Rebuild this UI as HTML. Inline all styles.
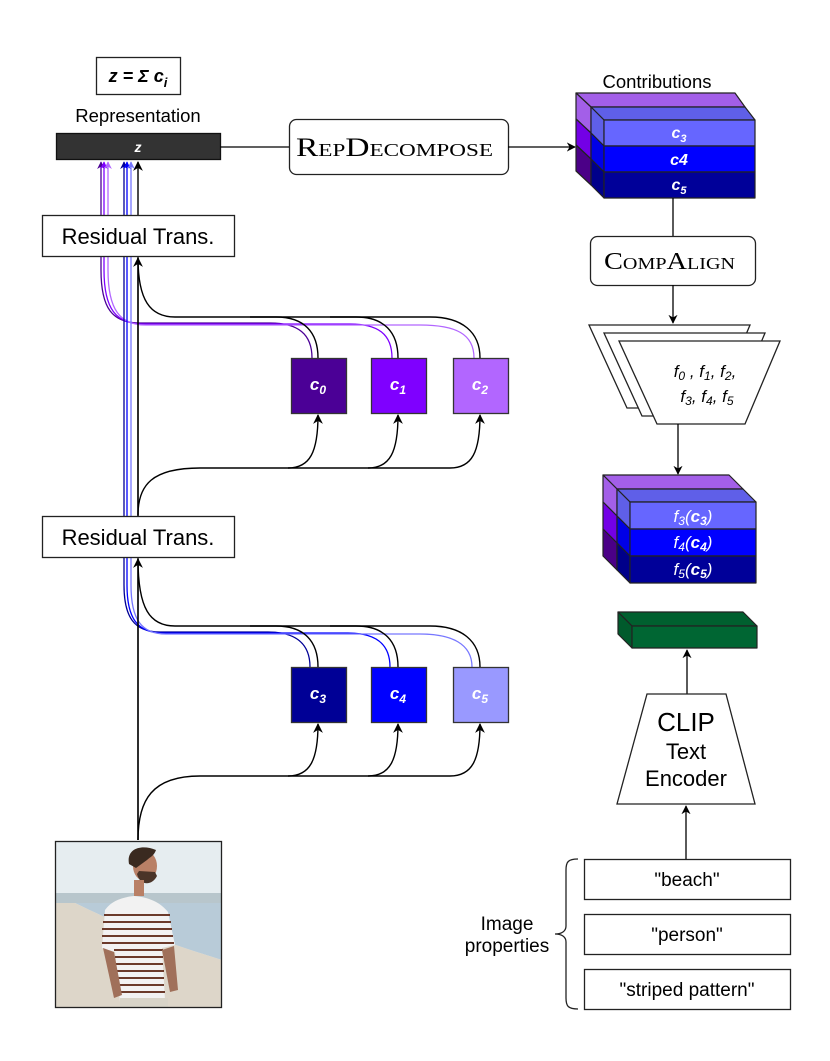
<!DOCTYPE html>
<html><head><meta charset="utf-8"><style>
html,body{margin:0;padding:0;background:#fff}
svg{display:block}
text{font-family:"Liberation Sans",sans-serif}
.sc{font-family:"Liberation Serif",serif;font-variant:small-caps}
</style></head><body>
<svg width="830" height="1061" viewBox="0 0 830 1061" xmlns="http://www.w3.org/2000/svg">
<defs>
<marker id="ab" viewBox="0 0 10 10" refX="9" refY="5" markerWidth="7" markerHeight="7" orient="auto-start-reverse"><path d="M0,0 L10,5 L0,10 L3,5 z" fill="#000"/></marker>
<marker id="a1" viewBox="0 0 10 10" refX="9" refY="5" markerWidth="6" markerHeight="6" orient="auto"><path d="M0,0 L10,5 L0,10 L3,5 z" fill="#4b0096"/></marker>
<marker id="a2" viewBox="0 0 10 10" refX="9" refY="5" markerWidth="6" markerHeight="6" orient="auto"><path d="M0,0 L10,5 L0,10 L3,5 z" fill="#7f00ff"/></marker>
<marker id="a3" viewBox="0 0 10 10" refX="9" refY="5" markerWidth="6" markerHeight="6" orient="auto"><path d="M0,0 L10,5 L0,10 L3,5 z" fill="#b266ff"/></marker>
<marker id="a4" viewBox="0 0 10 10" refX="9" refY="5" markerWidth="6" markerHeight="6" orient="auto"><path d="M0,0 L10,5 L0,10 L3,5 z" fill="#000096"/></marker>
<marker id="a5" viewBox="0 0 10 10" refX="9" refY="5" markerWidth="6" markerHeight="6" orient="auto"><path d="M0,0 L10,5 L0,10 L3,5 z" fill="#0000ff"/></marker>
<marker id="a6" viewBox="0 0 10 10" refX="9" refY="5" markerWidth="6" markerHeight="6" orient="auto"><path d="M0,0 L10,5 L0,10 L3,5 z" fill="#7777ff"/></marker>
</defs>

<!-- formula box -->
<rect x="96.5" y="57.5" width="84" height="37" fill="#fff" stroke="#222" stroke-width="1.3"/>
<text x="138" y="82" text-anchor="middle" font-size="18" font-weight="bold" font-style="italic">z = Σ c<tspan font-size="13" dy="5">i</tspan></text>
<text x="138" y="122" text-anchor="middle" font-size="18.5">Representation</text>

<!-- colored vertical lines (behind boxes) -->
<g fill="none" stroke-width="1.3">
<path d="M312,358 C312,334 298,323 270,323 L140,323 C112,323 101,308 101,270 L101,162" stroke="#4b0096" marker-end="url(#a1)"/>
<path d="M392,358 C392,334 378,324 350,324 L143,324 C116,324 104,309 104,270 L104,162" stroke="#7f00ff" marker-end="url(#a2)"/>
<path d="M474,358 C474,334 456,325 420,325 L146,325 C120,325 108,310 108,270 L108,162" stroke="#b266ff" marker-end="url(#a3)"/>
<path d="M310,667 C310,644 296,632 268,632 L160,632 C134,632 124,617 124,585 L124,162" stroke="#000096" marker-end="url(#a4)"/>
<path d="M390,667 C390,644 376,633 348,633 L163,633 C137,633 127,618 127,585 L127,162" stroke="#0000ff" marker-end="url(#a5)"/>
<path d="M472,667 C472,644 452,634 420,634 L166,634 C141,634 131,619 131,585 L131,162" stroke="#7777ff" marker-end="url(#a6)"/>
</g>
<!-- black main line -->
<g fill="none" stroke="#000" stroke-width="1.4">
<line x1="138" y1="840" x2="138" y2="162" marker-end="url(#ab)"/>
<line x1="138" y1="540" x2="138" y2="258" marker-end="url(#ab)"/>
<line x1="138" y1="840" x2="138" y2="559" marker-end="url(#ab)"/>
<path d="M318,358 C318,332 304,317 276,317 L175,317 C150,317 138,300 138,258"/>
<path d="M398,358 C398,332 384,317 356,317 L250,317"/>
<path d="M480,358 C480,332 462,317 430,317 L330,317"/>
<path d="M138,515 C138,485 152,468 200,468 L450,468 C472,468 480,452 480,415" marker-end="url(#ab)"/>
<path d="M288,468 C310,468 318,452 318,415" marker-end="url(#ab)"/>
<path d="M368,468 C390,468 398,452 398,415" marker-end="url(#ab)"/>
<path d="M318,667 C318,641 304,626 276,626 L175,626 C150,626 138,609 138,559"/>
<path d="M398,667 C398,641 384,626 356,626 L250,626"/>
<path d="M480,667 C480,641 462,626 430,626 L330,626"/>
<path d="M138,840 C138,800 152,776 200,776 L450,776 C472,776 480,760 480,724" marker-end="url(#ab)"/>
<path d="M288,776 C310,776 318,760 318,724" marker-end="url(#ab)"/>
<path d="M368,776 C390,776 398,760 398,724" marker-end="url(#ab)"/>
</g>

<!-- z bar -->
<rect x="56.5" y="133.5" width="164" height="26" fill="#333" stroke="#111" stroke-width="1.3"/>
<text x="138" y="152" text-anchor="middle" font-size="14" font-weight="bold" font-style="italic" fill="#fff">z</text>

<!-- residual boxes -->
<rect x="42.5" y="215.5" width="192" height="41" fill="#fff" stroke="#222" stroke-width="1.3"/>
<text x="138" y="244" text-anchor="middle" font-size="22">Residual Trans.</text>
<rect x="42.5" y="516.5" width="192" height="41" fill="#fff" stroke="#222" stroke-width="1.3"/>
<text x="138" y="545" text-anchor="middle" font-size="22">Residual Trans.</text>

<!-- c boxes -->
<g stroke="#333" stroke-width="1.3">
<rect x="291.5" y="358.5" width="55" height="55" fill="#4b0096"/>
<rect x="371.5" y="358.5" width="55" height="55" fill="#7f00ff"/>
<rect x="453.5" y="358.5" width="55" height="55" fill="#b266ff"/>
<rect x="291.5" y="667.5" width="55" height="55" fill="#000096"/>
<rect x="371.5" y="667.5" width="55" height="55" fill="#0000ff"/>
<rect x="453.5" y="667.5" width="55" height="55" fill="#9999ff"/>
</g>
<g fill="#fff" font-size="17" font-weight="bold" font-style="italic" text-anchor="middle">
<text x="318" y="390">c<tspan font-size="12" dy="4">0</tspan></text>
<text x="398" y="390">c<tspan font-size="12" dy="4">1</tspan></text>
<text x="480" y="390">c<tspan font-size="12" dy="4">2</tspan></text>
<text x="318" y="699">c<tspan font-size="12" dy="4">3</tspan></text>
<text x="398" y="699">c<tspan font-size="12" dy="4">4</tspan></text>
<text x="480" y="699">c<tspan font-size="12" dy="4">5</tspan></text>
</g>

<!-- RepDecompose -->
<line x1="220" y1="147" x2="289" y2="147" stroke="#000" stroke-width="1.3"/>
<rect x="289.5" y="119.5" width="219" height="55" rx="7" fill="#fff" stroke="#222" stroke-width="1.3"/>
<text class="sc" x="296" y="156" font-size="26" textLength="197" lengthAdjust="spacingAndGlyphs">RepDecompose</text>
<line x1="508" y1="147" x2="575" y2="147" stroke="#000" stroke-width="1.3" marker-end="url(#ab)"/>

<!-- top cube -->
<text x="657" y="88" text-anchor="middle" font-size="18.5">Contributions</text>
<g stroke="#222" stroke-width="1.2" stroke-linejoin="round">
<polygon points="576,93 735,93 745,107 591,107" fill="#a35fe8"/>
<polygon points="591,107 745,107 755,120 604,120" fill="#5f5fe8"/>
<polygon points="576,93 591,107 591,133 576,119" fill="#a35fe8"/>
<polygon points="576,119 591,133 591,159 576,145" fill="#7300e6"/>
<polygon points="576,145 591,159 591,185 576,171" fill="#4b0087"/>
<polygon points="591,107 604,120 604,146 591,133" fill="#5f5fe8"/>
<polygon points="591,133 604,146 604,172 591,159" fill="#0000e6"/>
<polygon points="591,159 604,172 604,198 591,185" fill="#00008a"/>
<rect x="604" y="120" width="151" height="26" fill="#6666ff"/>
<rect x="604" y="146" width="151" height="26" fill="#0000ff"/>
<rect x="604" y="172" width="151" height="26" fill="#000099"/>
</g>
<g fill="#fff" font-size="16" font-weight="bold" font-style="italic" text-anchor="middle">
<text x="679" y="138">c<tspan font-size="11" dy="4">3</tspan></text>
<text x="679" y="165">c4</text>
<text x="679" y="190">c<tspan font-size="11" dy="4">5</tspan></text>
</g>

<line x1="673" y1="198" x2="673" y2="236" stroke="#000" stroke-width="1.3"/>
<rect x="590.5" y="236.5" width="165" height="49" rx="7" fill="#fff" stroke="#222" stroke-width="1.3"/>
<text class="sc" x="604" y="269" font-size="24" textLength="131" lengthAdjust="spacingAndGlyphs">CompAlign</text>
<line x1="673" y1="285" x2="673" y2="323" stroke="#000" stroke-width="1.3" marker-end="url(#ab)"/>

<!-- trapezoids -->
<g fill="#fff" stroke="#222" stroke-width="1.3">
<polygon points="589,325 750,325 715,408 627,408"/>
<polygon points="604,333 765,333 730,416 642,416"/>
<polygon points="619,341 780,341 745,424 657,424"/>
</g>
<g font-size="17" font-style="italic" text-anchor="middle">
<text x="705" y="377">f<tspan font-size="12" dy="3">0</tspan><tspan dy="-3"> , f</tspan><tspan font-size="12" dy="3">1</tspan><tspan dy="-3">, f</tspan><tspan font-size="12" dy="3">2</tspan><tspan dy="-3">,</tspan></text>
<text x="707" y="402">f<tspan font-size="12" dy="3">3</tspan><tspan dy="-3">, f</tspan><tspan font-size="12" dy="3">4</tspan><tspan dy="-3">, f</tspan><tspan font-size="12" dy="3">5</tspan></text>
</g>
<line x1="678" y1="424" x2="678" y2="474" stroke="#000" stroke-width="1.3" marker-end="url(#ab)"/>

<!-- bottom cube -->
<g stroke="#222" stroke-width="1.2" stroke-linejoin="round">
<polygon points="603,475 729,475 743,489 617,489" fill="#a35fe8"/>
<polygon points="617,489 743,489 756,502 630,502" fill="#5f5fe8"/>
<polygon points="603,475 617,489 617,516 603,502" fill="#a35fe8"/>
<polygon points="603,502 617,516 617,543 603,529" fill="#7300e6"/>
<polygon points="603,529 617,543 617,570 603,556" fill="#4b0087"/>
<polygon points="617,489 630,502 630,529 617,516" fill="#5f5fe8"/>
<polygon points="617,516 630,529 630,556 617,543" fill="#0000e6"/>
<polygon points="617,543 630,556 630,583 617,570" fill="#00008a"/>
<rect x="630" y="502" width="126" height="27" fill="#6666ff"/>
<rect x="630" y="529" width="126" height="27" fill="#0000ff"/>
<rect x="630" y="556" width="126" height="27" fill="#000099"/>
</g>
<g fill="#fff" font-size="17" font-style="italic" text-anchor="middle">
<text x="693" y="522">f<tspan font-size="12" dy="3">3</tspan><tspan dy="-3">(</tspan><tspan font-weight="bold">c</tspan><tspan font-size="12" font-weight="bold" dy="3">3</tspan><tspan dy="-3">)</tspan></text>
<text x="693" y="548">f<tspan font-size="12" dy="3">4</tspan><tspan dy="-3">(</tspan><tspan font-weight="bold">c</tspan><tspan font-size="12" font-weight="bold" dy="3">4</tspan><tspan dy="-3">)</tspan></text>
<text x="693" y="575">f<tspan font-size="12" dy="3">5</tspan><tspan dy="-3">(</tspan><tspan font-weight="bold">c</tspan><tspan font-size="12" font-weight="bold" dy="3">5</tspan><tspan dy="-3">)</tspan></text>
</g>

<!-- green -->
<g stroke="#222" stroke-width="1.2" stroke-linejoin="round">
<polygon points="618,612 743,612 757,626 632,626" fill="#00602f"/>
<polygon points="618,612 632,626 632,648 618,634" fill="#005a2c"/>
<rect x="632" y="626" width="125" height="22" fill="#006633"/>
</g>
<line x1="687" y1="694" x2="687" y2="650" stroke="#000" stroke-width="1.3" marker-end="url(#ab)"/>

<!-- CLIP -->
<polygon points="647,694 726,694 755,804 617,804" fill="#fff" stroke="#222" stroke-width="1.3"/>
<text x="686" y="731" text-anchor="middle" font-size="26">CLIP</text>
<text x="686" y="759" text-anchor="middle" font-size="22">Text</text>
<text x="686" y="786" text-anchor="middle" font-size="22">Encoder</text>
<line x1="686" y1="859" x2="686" y2="806" stroke="#000" stroke-width="1.3" marker-end="url(#ab)"/>

<!-- property boxes -->
<g fill="#fff" stroke="#222" stroke-width="1.3">
<rect x="584.5" y="859.5" width="206" height="40"/>
<rect x="584.5" y="914.5" width="206" height="40"/>
<rect x="584.5" y="969.5" width="206" height="40"/>
</g>
<g font-size="19" text-anchor="middle">
<text x="687" y="886">"beach"</text>
<text x="687" y="941">"person"</text>
<text x="687" y="996">"striped pattern"</text>
<text x="507" y="930">Image</text>
<text x="507" y="952">properties</text>
</g>
<path d="M578,859 C568,859 566,862 566,870 L566,926 C566,931 562,934 555,934 C562,934 566,937 566,942 L566,998 C566,1006 568,1009 578,1009" fill="none" stroke="#222" stroke-width="1.3"/>

<!-- photo -->
<g>
<rect x="55" y="841" width="167" height="167" fill="#e6edf0"/>
<rect x="55" y="893" width="167" height="10" fill="#b8c6cc"/>
<path d="M75,903 L222,903 L222,960 C190,950 140,935 75,903 z" fill="#b8cbd8"/>
<path d="M55,903 L75,903 C140,935 190,950 222,960 L222,1008 L55,1008 z" fill="#ddd6c9"/>
<path d="M105,910 C112,900 124,897 134,896 C148,897 160,902 168,912 L175,945 L162,948 L165,1000 L120,1002 L115,952 L102,948 z" fill="#f2f2f2"/>
<g stroke="#6b3a2a" stroke-width="2">
<line x1="104" y1="915" x2="170" y2="915"/><line x1="103" y1="922" x2="171" y2="922"/>
<line x1="102" y1="929" x2="172" y2="929"/><line x1="102" y1="936" x2="173" y2="936"/>
<line x1="102" y1="943" x2="174" y2="943"/><line x1="114" y1="950" x2="163" y2="950"/>
<line x1="115" y1="957" x2="163" y2="957"/><line x1="115" y1="964" x2="163" y2="964"/>
<line x1="116" y1="971" x2="164" y2="971"/><line x1="116" y1="978" x2="164" y2="978"/>
<line x1="117" y1="985" x2="164" y2="985"/><line x1="118" y1="992" x2="165" y2="992"/>
</g>
<path d="M103,948 L114,952 L122,995 L114,998 z" fill="#a0705a"/>
<path d="M162,950 L174,946 L178,990 L170,992 z" fill="#a0705a"/>
<rect x="120" y="998" width="48" height="10" fill="#d8d4c8"/>
<ellipse cx="145" cy="866" rx="12" ry="15" fill="#b98066"/>
<path d="M129,864 C126,848 142,844 156,850 C154,856 150,857 147,860 L136,868 z" fill="#3a2a20"/>
<path d="M137,874 C140,886 152,886 157,876 L155,872 L139,871 z" fill="#4a3428"/>
<rect x="134" y="880" width="10" height="16" fill="#b98066"/>
</g>
<rect x="55.5" y="841.5" width="166" height="166" fill="none" stroke="#222" stroke-width="1.3"/>
</svg>
</body></html>
